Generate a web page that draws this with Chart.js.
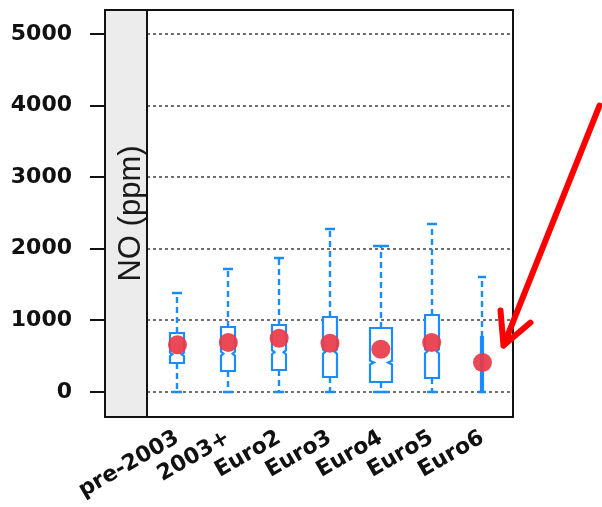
<!DOCTYPE html>
<html>
<head>
<meta charset="utf-8">
<script src="https://cdn.jsdelivr.net/npm/chart.js@4.4.1/dist/chart.umd.min.js"></script>
<style>
  html, body { margin: 0; padding: 0; background: #fff; }
  canvas { display: block; }
</style>
</head>
<body>
<canvas id="chart" width="602" height="507"></canvas>
<script>
// NO (ppm) by vehicle class
const categories = ["pre-2003", "2003+", "Euro2", "Euro3", "Euro4", "Euro5", "Euro6"];
const whiskerLow = [0, 0, 0, 0, 0, 0, 0];
const q1 = [405, 290, 310, 210, 140, 195, 10];
const medians = [525, 535, 555, 563, 410, 568, 200];
const q3 = [820, 905, 935, 1050, 890, 1075, 770];
const whiskerHigh = [1380, 1715, 1870, 2275, 2040, 2345, 1600];
const notchHalf = [25, 28, 28, 30, 25, 30, 0];
const means = [660, 690, 750, 680, 596, 690, 410];
const yTicks = [0, 1000, 2000, 3000, 4000, 5000];

// box widths (varwidth look), as fraction of one category step
const boxWidthFrac = [0.26, 0.26, 0.26, 0.26, 0.45, 0.26, 0.05];

const BLUE = "#1a8cff";
const RED = "rgba(234, 58, 72, 0.92)";

const panelPlugin = {
    id: "panelPlugin",
    beforeDatasetsDraw(chart) {
        const ctx = chart.ctx;
        const area = chart.chartArea;
        const xs = chart.scales.x;
        const ys = chart.scales.y;
        const stripRight = xs.getPixelForValue(-0.6);

        // strip on the left of the panel
        ctx.save();
        ctx.fillStyle = "#ececec";
        ctx.fillRect(area.left, area.top, stripRight - area.left, area.bottom - area.top);
        ctx.fillStyle = "#1a1a1a";
        ctx.font = "31px 'Liberation Sans', Arial, sans-serif";
        ctx.textAlign = "center";
        ctx.textBaseline = "alphabetic";
        ctx.translate(stripRight - 7, (area.top + area.bottom) / 2);
        ctx.rotate(-Math.PI / 2);
        ctx.fillText("NO (ppm)", 0, 0);
        ctx.restore();

        // boxes and whiskers
        const step = xs.getPixelForValue(1) - xs.getPixelForValue(0);
        ctx.save();
        ctx.strokeStyle = BLUE;
        categories.forEach((c, i) => {
            const cx = Math.round(xs.getPixelForValue(i));
            const hw = Math.max(1, Math.round(boxWidthFrac[i] * step / 2));
            const yq1 = Math.round(ys.getPixelForValue(q1[i]));
            const yq3 = Math.round(ys.getPixelForValue(q3[i]));
            const ymed = ys.getPixelForValue(medians[i]);
            const ynLo = ys.getPixelForValue(medians[i] - notchHalf[i]);
            const ynHi = ys.getPixelForValue(medians[i] + notchHalf[i]);
            const ywLo = Math.round(ys.getPixelForValue(whiskerLow[i]));
            const ywHi = Math.round(ys.getPixelForValue(whiskerHigh[i]));
            const capHw = Math.max(4, Math.round(hw * 0.75));

            // whiskers (dashed)
            ctx.lineWidth = 2.4;
            ctx.setLineDash([6, 4]);
            ctx.beginPath();
            ctx.moveTo(cx, yq3);
            ctx.lineTo(cx, ywHi);
            ctx.moveTo(cx, yq1);
            ctx.lineTo(cx, ywLo);
            ctx.stroke();
            ctx.setLineDash([]);
            ctx.beginPath();
            ctx.moveTo(cx - capHw, ywHi);
            ctx.lineTo(cx + capHw, ywHi);
            ctx.moveTo(cx - capHw, ywLo);
            ctx.lineTo(cx + capHw, ywLo);
            ctx.stroke();

            // notched box
            ctx.lineWidth = 2.2;
            const inset = hw * 0.35;
            ctx.beginPath();
            ctx.moveTo(cx - hw, yq1);
            ctx.lineTo(cx - hw, ynLo);
            ctx.lineTo(cx - hw + inset, ymed);
            ctx.lineTo(cx - hw, ynHi);
            ctx.lineTo(cx - hw, yq3);
            ctx.lineTo(cx + hw, yq3);
            ctx.lineTo(cx + hw, ynHi);
            ctx.lineTo(cx + hw - inset, ymed);
            ctx.lineTo(cx + hw, ynLo);
            ctx.lineTo(cx + hw, yq1);
            ctx.closePath();
            ctx.fillStyle = "#ffffff";
            ctx.fill();
            ctx.stroke();
        });
        ctx.restore();
    },
    afterDraw(chart) {
        const ctx = chart.ctx;
        const area = chart.chartArea;
        const xs = chart.scales.x;
        const ys = chart.scales.y;
        const stripRight = Math.round(xs.getPixelForValue(-0.6));

        // panel frame
        ctx.save();
        ctx.strokeStyle = "#111";
        ctx.lineWidth = 2;
        ctx.strokeRect(area.left, area.top, area.right - area.left, area.bottom - area.top);
        ctx.beginPath();
        ctx.moveTo(stripRight, area.top);
        ctx.lineTo(stripRight, area.bottom);
        ctx.stroke();

        // red arrow pointing at Euro6
        const last = categories.length - 1;
        const tipX = xs.getPixelForValue(last) + 21;
        const tipY = ys.getPixelForValue(means[last]) - 17;
        ctx.strokeStyle = "#ff0000";
        ctx.lineWidth = 6;
        ctx.lineCap = "round";
        ctx.lineJoin = "round";
        ctx.beginPath();
        ctx.moveTo(tipX + 96, tipY - 240);
        ctx.lineTo(tipX, tipY);
        ctx.moveTo(tipX - 3, tipY - 35);
        ctx.lineTo(tipX, tipY);
        ctx.lineTo(tipX + 27, tipY - 23);
        ctx.stroke();
        ctx.restore();
    }
};

const chart = new Chart(document.getElementById("chart").getContext("2d"), {
    type: "scatter",
    data: {
        datasets: [
            {
                label: "mean",
                data: categories.map((c, i) => ({ x: i, y: means[i] })),
                backgroundColor: RED,
                borderWidth: 0,
                pointRadius: 9.5,
                pointHoverRadius: 9.5,
            },
        ],
    },
    options: {
        responsive: false,
        animation: false,
        layout: { padding: { top: 10, right: 89, left: 0, bottom: 0 } },
        plugins: {
            legend: { display: false },
            tooltip: { enabled: false },
        },
        scales: {
            x: {
                type: "linear",
                min: -1.426,
                max: 6.6,
                afterBuildTicks: (scale) => {
                    scale.ticks = categories.map((c, i) => ({ value: i }));
                },
                afterFit: (scale) => {
                    scale.height = 90;
                    scale.paddingLeft = 0;
                    scale.paddingRight = 0;
                },
                grid: { display: false },
                border: { display: false },
                ticks: {
                    autoSkip: false,
                    minRotation: 30,
                    maxRotation: 30,
                    padding: 0,
                    color: "#111",
                    font: { family: "'DejaVu Sans'", weight: "bold", size: 22 },
                    callback: (v) => categories[v],
                },
            },
            y: {
                type: "linear",
                min: -350,
                max: 5335,
                afterBuildTicks: (scale) => {
                    scale.ticks = yTicks.map((v) => ({ value: v }));
                },
                afterFit: (scale) => {
                    scale.width = 105;
                    scale.paddingTop = 0;
                    scale.paddingBottom = 0;
                },
                grid: {
                    color: "#6e6e6e",
                    lineWidth: 2,
                    drawTicks: true,
                    tickLength: 15,
                    tickColor: "#111",
                    tickWidth: 2,
                    tickBorderDash: [],
                },
                border: { display: false, dash: [3, 3] },
                ticks: {
                    padding: 18,
                    color: "#111",
                    font: { family: "'DejaVu Sans'", weight: "bold", size: 22 },
                    callback: (v) => String(v),
                },
            },
        },
    },
    plugins: [panelPlugin],
});
</script>
</body>
</html>
